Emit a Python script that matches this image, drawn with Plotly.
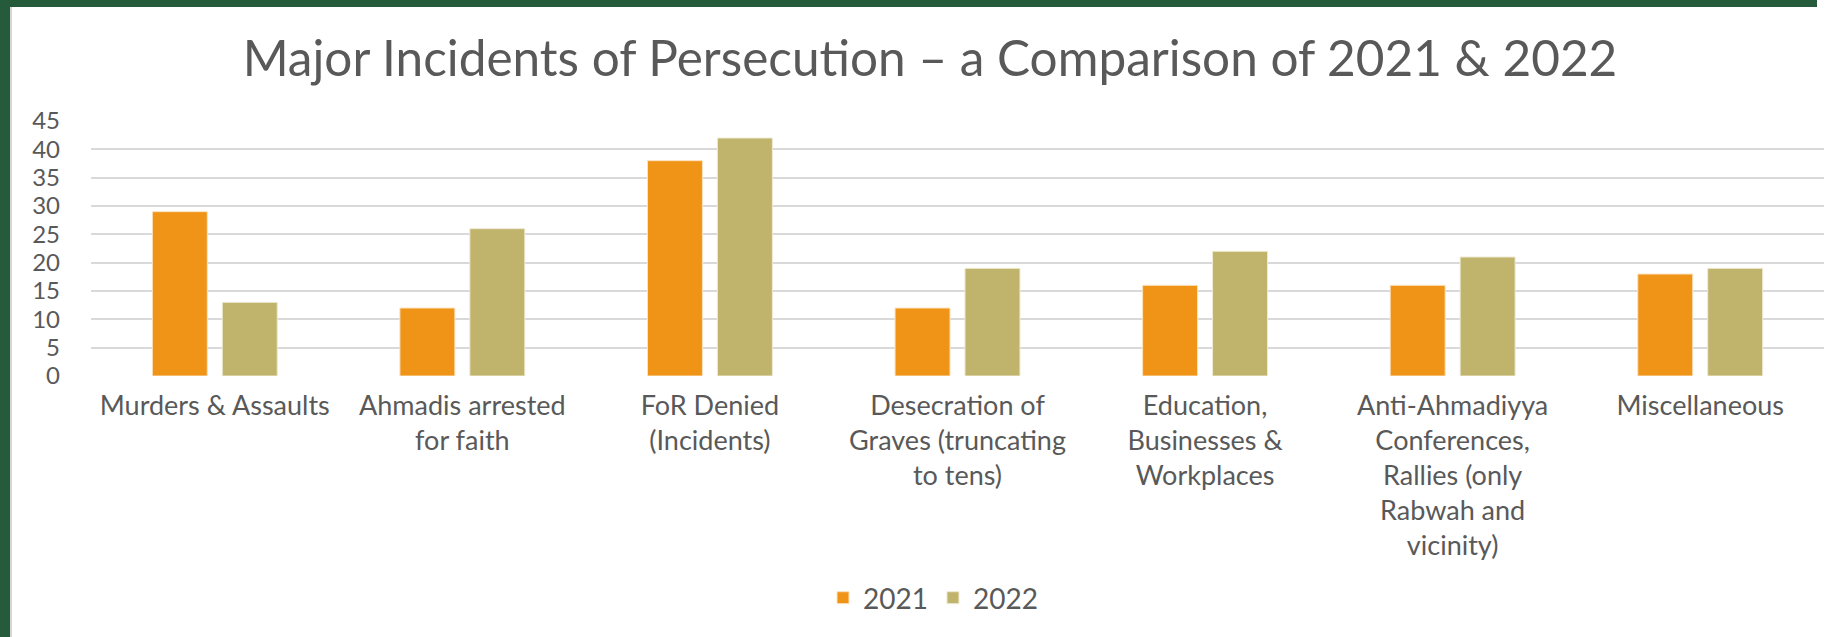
import plotly.graph_objects as go

categories = [
    "Murders & Assaults",
    "Ahmadis arrested<br>for faith",
    "FoR Denied<br>(Incidents)",
    "Desecration of<br>Graves (truncating<br>to tens)",
    "Education,<br>Businesses &<br>Workplaces",
    "Anti-Ahmadiyya<br>Conferences,<br>Rallies (only<br>Rabwah and<br>vicinity)",
    "Miscellaneous",
]
values_2021 = [29, 12, 38, 12, 16, 16, 18]
values_2022 = [13, 26, 42, 19, 22, 21, 19]
series_names = ["2021", "2022"]
y_ticks = [0, 5, 10, 15, 20, 25, 30, 35, 40, 45]

W, H = 1847, 637
ML, MR, MT, MB = 91, 23, 121, 261
FONT = "Lato"
GREY = "#595959"
GREEN = "#255A3A"

fig = go.Figure()
fig.add_trace(go.Bar(x=categories, y=values_2021, name=series_names[0],
                     marker=dict(color="#F09418", line=dict(color="#FBE3C0", width=1))))
fig.add_trace(go.Bar(x=categories, y=values_2022, name=series_names[1],
                     marker=dict(color="#C0B46C", line=dict(color="#EEEAD2", width=1))))

pw = W - ML - MR
ph = H - MT - MB

def px_x(p):
    return (p - ML) / pw

def px_y(p):
    return (H - MB - p) / ph

shapes = [
    dict(type="rect", xref="paper", yref="paper", x0=px_x(0), x1=px_x(10), y0=px_y(H), y1=px_y(0),
         fillcolor=GREEN, line=dict(width=0), layer="above"),
    dict(type="rect", xref="paper", yref="paper", x0=px_x(0), x1=px_x(W - 30), y0=px_y(7), y1=px_y(0),
         fillcolor=GREEN, line=dict(width=0), layer="above"),
    dict(type="line", xref="paper", yref="paper", x0=px_x(11), x1=px_x(11), y0=px_y(H), y1=px_y(7),
         line=dict(color="#C8C8C8", width=1.5), layer="above"),
]

fig.update_layout(
    width=W, height=H,
    margin=dict(l=ML, r=MR, t=MT, b=MB),
    paper_bgcolor="white", plot_bgcolor="white",
    font=dict(family=FONT, color=GREY),
    title=dict(text="Major Incidents of Persecution – a Comparison of 2021 & 2022",
               x=930 / W, xref="container", xanchor="center",
               y=1 - 59 / H, yref="container", yanchor="middle",
               font=dict(size=49.5, family=FONT, color=GREY)),
    barmode="group",
    bargap=0.435,
    bargroupgap=0.214,
    showlegend=True,
    legend=dict(orientation="h", x=px_x(933), xanchor="center", y=px_y(598), yanchor="middle",
                font=dict(size=28, color=GREY), itemwidth=30, traceorder="normal"),
    shapes=shapes,
    xaxis=dict(showgrid=False, showline=False, ticks="", ticklen=0, tickfont=dict(size=27, color=GREY),
               tickangle=0, automargin=False, ticklabelstandoff=11),
    yaxis=dict(range=[0, 45], tickvals=y_ticks, showgrid=True, gridcolor="#D9D9D9", gridwidth=1.5,
               zeroline=False, showline=False, ticks="", ticklen=0, tickfont=dict(size=24, color=GREY),
               ticklabelstandoff=30, automargin=False),
)

fig.write_html("out.html", config={"displayModeBar": False},
               post_script="document.body.style.margin='0px';document.body.style.overflow='hidden';")
